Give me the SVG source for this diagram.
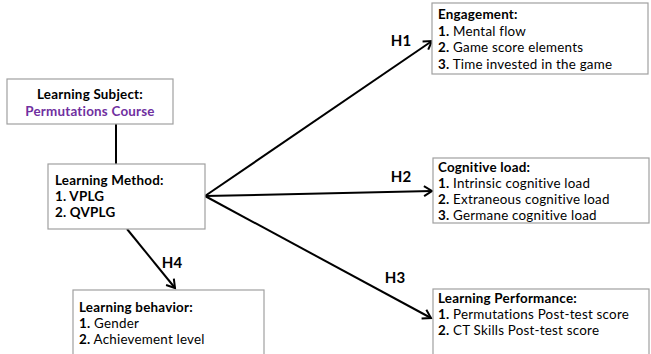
<svg xmlns="http://www.w3.org/2000/svg" width="651" height="354" viewBox="0 0 651 354">
  <style>
    .box { fill: #ffffff; stroke: #a0a0a0; stroke-width: 1.2; }
    .t { font-family: Lato, "Open Sans", "DejaVu Sans", sans-serif; font-size: 13.4px; letter-spacing: 0.22px; fill: #000000; }
    .b { font-weight: bold; }
    .purple { fill: #7030a0; }
    .lbl { font-family: Lato, "Open Sans", "DejaVu Sans", sans-serif; font-size: 15px; font-weight: bold; fill: #000000; text-anchor: middle; }
    .link { stroke: #000000; stroke-width: 2; fill: none; }
  </style>
  <defs>
    <marker id="arrow" markerUnits="userSpaceOnUse" markerWidth="14" markerHeight="14" viewBox="0 0 14 14" refX="11" refY="7" orient="auto">
      <path d="M3,2 L11,7 L3,12" fill="none" stroke="#000000" stroke-width="2"/>
    </marker>
  </defs>
  <rect width="651" height="354" fill="#ffffff"/>

  <!-- connectors -->
  <g id="connectors">
    <line class="link" x1="116" y1="124" x2="116" y2="164"/>
    <line class="link" x1="205" y1="196" x2="432" y2="41" marker-end="url(#arrow)"/>
    <line class="link" x1="205" y1="196" x2="432" y2="191" marker-end="url(#arrow)"/>
    <line class="link" x1="205" y1="196" x2="431" y2="318" marker-end="url(#arrow)"/>
    <line class="link" x1="127" y1="229" x2="175" y2="288" marker-end="url(#arrow)"/>
    <text class="lbl" x="401" y="46">H1</text>
    <text class="lbl" x="401" y="182">H2</text>
    <text class="lbl" x="395" y="283">H3</text>
    <text class="lbl" x="172" y="268">H4</text>
  </g>

  <g id="subject">
    <rect class="box" x="7" y="79" width="166" height="45"/>
    <text class="t b" x="90" y="99" text-anchor="middle">Learning Subject:</text>
    <text class="t b purple" x="90" y="115.5" text-anchor="middle">Permutations Course</text>
  </g>

  <g id="method">
    <rect class="box" x="48" y="164" width="157" height="65"/>
    <text class="t b" x="55" y="185">Learning Method:</text>
    <text class="t b" x="55" y="201.2">1. VPLG</text>
    <text class="t b" x="55" y="217.4">2. QVPLG</text>
  </g>

  <g id="behavior">
    <rect class="box" x="73" y="290" width="191" height="72"/>
    <text class="t b" x="79" y="312">Learning behavior:</text>
    <text class="t" x="79" y="328.2"><tspan class="b">1.</tspan> Gender</text>
    <text class="t" x="79" y="344.4"><tspan class="b">2.</tspan> Achievement level</text>
  </g>

  <g id="engagement">
    <rect class="box" x="432" y="3" width="216" height="71"/>
    <text class="t b" x="438" y="19">Engagement:</text>
    <text class="t" x="438" y="35.5"><tspan class="b">1.</tspan> Mental flow</text>
    <text class="t" x="438" y="52"><tspan class="b">2.</tspan> Game score elements</text>
    <text class="t" x="438" y="68.5"><tspan class="b">3.</tspan> Time invested in the game</text>
  </g>

  <g id="cognitive">
    <rect class="box" x="433" y="158" width="216" height="65"/>
    <text class="t b" x="438" y="171.5">Cognitive load:</text>
    <text class="t" x="438" y="187.7"><tspan class="b">1.</tspan> Intrinsic cognitive load</text>
    <text class="t" x="438" y="203.9"><tspan class="b">2.</tspan> Extraneous cognitive load</text>
    <text class="t" x="438" y="220.1"><tspan class="b">3.</tspan> Germane cognitive load</text>
  </g>

  <g id="performance">
    <rect class="box" x="433" y="289" width="216" height="72"/>
    <text class="t b" x="438" y="303">Learning Performance:</text>
    <text class="t" x="438" y="319.2"><tspan class="b">1.</tspan> Permutations Post-test score</text>
    <text class="t" x="438" y="335.4"><tspan class="b">2.</tspan> CT Skills Post-test score</text>
  </g>
</svg>
